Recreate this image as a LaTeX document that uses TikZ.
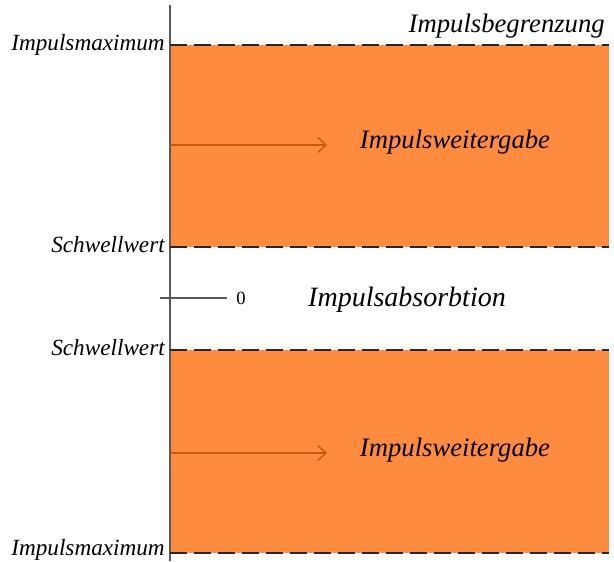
\documentclass[tikz,border=0pt]{standalone}
\usepackage{fontspec}
\setmainfont{Liberation Serif}
\usetikzlibrary{arrows.meta,positioning}

\definecolor{pulsorange}{RGB}{255,139,63}
\definecolor{pulsarrow}{RGB}{197,90,17}
\definecolor{axisgray}{RGB}{89,89,89}

\tikzset{
  zone/.style={fill=pulsorange,draw=none},
  limit/.style={dash pattern=on 13pt off 5pt,line width=0.8pt,black!85},
  sidelabel/.style={font=\fontsize{17.4}{20}\selectfont\itshape,anchor=east,inner sep=0pt},
  biglabel/.style={font=\fontsize{20}{24}\selectfont\itshape,inner sep=0pt},
  flow/.style={->,pulsarrow,line width=1pt,>={Straight Barb[length=6pt,width=11pt]}},
}

\begin{document}
\begin{tikzpicture}[x=0.75pt,y=-0.75pt]
  \useasboundingbox (0,0) rectangle (614,561);

  % orange zones
  \fill[zone] (170,45) rectangle (609,247);
  \fill[zone] (170,350) rectangle (609,553);

  % axis
  \coordinate (top) at (170,5);
  \coordinate (bottom) at (170,561);
  \draw[axisgray,line width=0.9pt] (top) -- (bottom);

  % limits
  \coordinate (max1) at (170,45);   \coordinate (max1e) at (609,45);
  \coordinate (sw1) at (170,247);   \coordinate (sw1e) at (609,247);
  \coordinate (sw2) at (170,350);   \coordinate (sw2e) at (609,350);
  \coordinate (max2) at (170,553);  \coordinate (max2e) at (609,553);
  \draw[limit] (max1) -- (max1e);
  \draw[limit] (sw1) -- (sw1e);
  \draw[limit] (sw2) -- (sw2e);
  \draw[limit] (max2) -- (max2e);

  % labels on the left
  \node[sidelabel] (lmax1) at (165,45) {Impulsmaximum};
  \node[sidelabel] (lsw1) at (165,245) {Schwellwert};
  \node[sidelabel] (lsw2) at (165,348) {Schwellwert};
  \node[sidelabel] (lmax2) at (165,550) {Impulsmaximum};

  % zero level
  \coordinate (z0) at (160,298);
  \node[font=\fontsize{14}{16}\selectfont,inner sep=0pt] (zero) at (241,298) {0};
  \draw[axisgray,line width=0.9pt] (z0) -- ([xshift=-7pt]zero.west);
  \node[biglabel,font=\fontsize{21}{24}\selectfont\itshape] (absorb) at (407,300) {Impulsabsorbtion};

  \node[biglabel,anchor=east] (limit) at (605,26) {Impulsbegrenzung};

  % transfer
  \node[biglabel] (pass1) at (455,142) {Impulsweitergabe};
  \node[biglabel] (pass2) at (455,450) {Impulsweitergabe};
  \coordinate (a1) at (170,145);
  \coordinate (a2) at (170,453);
  \draw[flow] (a1) -- ++(157,0);
  \draw[flow] (a2) -- ++(157,0);
\end{tikzpicture}
\end{document}
